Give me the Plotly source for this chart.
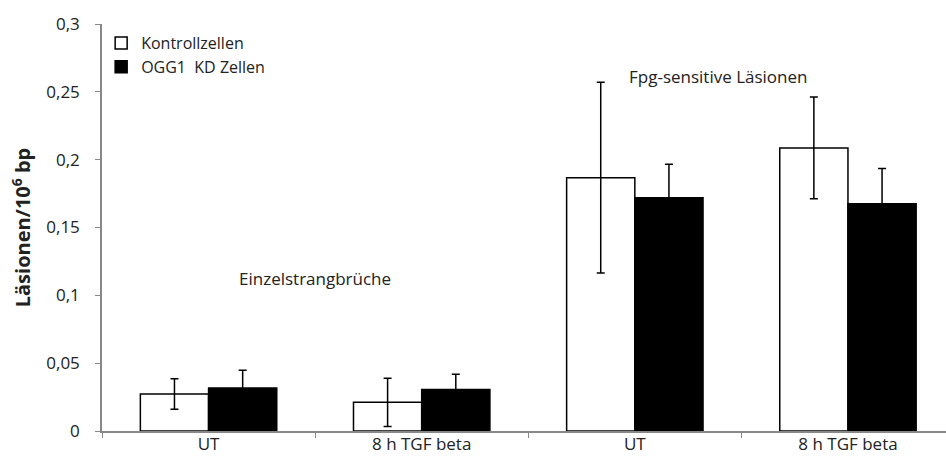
import plotly.graph_objects as go

categories = ["UT", "8 h TGF beta", "UT ", "8 h TGF beta "]
tick_labels = ["UT", "8 h TGF beta", "UT", "8 h TGF beta"]
kontroll = [0.0273, 0.0211, 0.1867, 0.2086]
kontroll_err = [0.0112, 0.0178, 0.0703, 0.0375]
ogg1 = [0.0317, 0.0305, 0.1720, 0.1675]
ogg1_err = [0.0130, 0.0113, 0.0246, 0.0260]
y_ticks = [0, 0.05, 0.1, 0.15, 0.2, 0.25, 0.3]
y_tick_text = ["0", "0,05", "0,1", "0,15", "0,2", "0,25", "0,3"]

font = "Open Sans, Liberation Sans, sans-serif"

fig = go.Figure()
fig.add_trace(go.Bar(
    x=categories, y=kontroll, name="Kontrollzellen",
    marker=dict(color="white", line=dict(color="black", width=1.5)),
    error_y=dict(type="data", array=kontroll_err, visible=True,
                 color="black", thickness=1.5, width=4),
))
fig.add_trace(go.Bar(
    x=categories, y=ogg1, name="OGG1  KD Zellen",
    marker=dict(color="black", line=dict(color="black", width=1.5)),
    error_y=dict(type="data", array=ogg1_err, visible=True,
                 color="black", thickness=1.5, width=4),
))

fig.add_annotation(x=0.5, y=0.1125, xref="x", yref="y", text="Einzelstrangbrüche",
                   showarrow=False, font=dict(family=font, size=17, color="#222"))
fig.add_annotation(x=2.39, y=0.261, xref="x", yref="y", text="Fpg-sensitive Läsionen",
                   showarrow=False, font=dict(family=font, size=17, color="#222"))

fig.update_layout(
    width=946, height=466,
    margin=dict(l=102, r=0, t=24, b=35),
    paper_bgcolor="white", plot_bgcolor="white",
    barmode="group", bargap=0.36, bargroupgap=0,
    font=dict(family=font, size=16, color="#222"),
    showlegend=True,
    legend=dict(x=-0.001, y=0.995, xanchor="left", yanchor="top",
                bgcolor="rgba(0,0,0,0)", font=dict(size=16, family=font),
                itemwidth=30, tracegroupgap=0),
    xaxis=dict(
        type="category", range=[-0.5, 3.46],
        tickvals=categories, ticktext=tick_labels,
        tickson="boundaries", ticks="outside", ticklen=5, tickcolor="#888",
        showline=True, linecolor="#888", linewidth=1.5,
        showgrid=False, tickfont=dict(size=17, family=font),
        ticklabelstandoff=-3,
    ),
    yaxis=dict(
        range=[0, 0.3], tickvals=y_ticks, ticktext=y_tick_text,
        ticks="outside", ticklen=5, tickcolor="#888",
        showline=True, linecolor="#888", linewidth=1.5,
        showgrid=False, zeroline=False, tickfont=dict(size=17, family=font),
        ticklabelstandoff=12,
        title=dict(text="<b>Läsionen/10<sup>6</sup> bp</b>",
                   font=dict(size=20, family=font), standoff=10),
    ),
)

fig.write_html("out.html", config={"displayModeBar": False},
               post_script="document.body.style.margin='0';")
